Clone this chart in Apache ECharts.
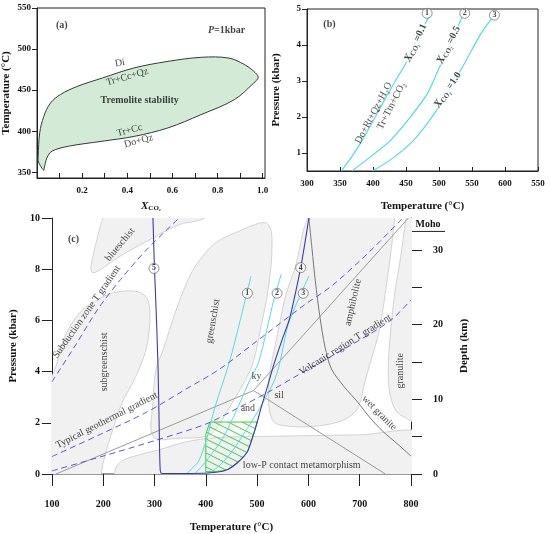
<!DOCTYPE html>
<html>
<head>
<meta charset="utf-8">
<script src="https://cdn.jsdelivr.net/npm/echarts@6/dist/echarts.min.js"></script>
<style>
html, body { margin: 0; padding: 0; background: #fff; }
#main { width: 550px; height: 534px; }
</style>
</head>
<body>
<div id="main"></div>
<script>
// ---- panel (a): tremolite field, X(CO2) vs T at 1 kbar
var aXTicks = [0.1, 0.2, 0.3, 0.4, 0.5, 0.6, 0.7, 0.8, 0.9, 1.0];
var aXLabels = [0.2, 0.4, 0.6, 0.8, 1.0];
var aYLabels = [350, 400, 450, 500, 550];
var tremoliteField = [[0.005, 369], [0.012, 398], [0.03, 418], [0.059, 434], [0.103, 444.5], [0.18, 454.7],
  [0.29, 464.8], [0.43, 477], [0.58, 485], [0.73, 490], [0.85, 489], [0.92, 481], [0.96, 473], [0.98, 465.6],
  [0.96, 458.7], [0.874, 438.4], [0.727, 420.2], [0.58, 404], [0.433, 393.8], [0.287, 387.7], [0.14, 381.7],
  [0.066, 375.6], [0.044, 367.5], [0.032, 355.3], [0.03, 352.4], [0.015, 358], [0.005, 364]];

// ---- panel (b): reaction curves
var bXTickLabels = ['300', '350', '400', '450', '500', '550', '600', '550'];
var bYLabels = [1, 2, 3, 4, 5];
var bCurve1 = [[352, 0.5], [372, 1.01], [390, 1.56], [418, 2.49], [438, 3.13], [450, 3.5], [468, 4.2], [486, 4.83]];
var bCurve2 = [[368, 0.5], [398, 0.92], [428, 1.38], [458, 2.03], [483, 2.67], [499, 3.31], [518, 4.05], [536, 4.83]];
var bCurve3 = [[399, 0.5], [428, 0.83], [463, 1.38], [494, 2.12], [517, 2.8], [539, 3.5], [564, 4.33], [582, 4.79]];

// ---- panel (c): facies grid
var cDepthTicks = [0, 5, 10, 15, 20, 25, 30];
var cDepthLabels = [0, 10, 20, 30];
var mohoDepth = 32.5;
var blueschistField = [[206, 10.6], [199, 10], [190, 9.35], [180, 8.5], [176, 8.06], [180, 7.86], [200, 8.05],
  [228, 8.45], [285, 9.09], [348, 9.74], [398, 10], [420, 10.6]];
var subgreenField = [[80, -0.5], [195, -0.5], [197, 0.1], [203, 0.7], [215, 1.5], [237, 2.8], [256, 3.5], [272, 4.2],
  [285, 5.0], [291, 6.0], [288, 6.75], [276, 7.05], [255, 7.15], [225, 7.1], [196, 6.89], [155, 6.31], [123, 5.27],
  [104, 3.98], [80, 3.2]];
var greenschistField = [[298, 1.45], [297, 2.8], [303, 4.1], [316, 4.8], [342, 6.4], [373, 7.9], [400, 8.65], [424, 9.1],
  [455, 9.4], [490, 9.7], [515, 9.82], [526, 9.6], [529, 9.0], [527, 8.1], [519, 6.9], [506, 5.6], [493, 4.4],
  [478, 3.7], [458, 3.0], [440, 2.4], [425, 1.9], [405, 1.5], [350, 1.4]];
var amphiboliteField = [[600, 10.6], [598, 10], [590, 9.5], [576, 8.2], [556, 7.0], [545, 6.0], [535, 5.0], [525, 4.0],
  [522, 3.3], [524, 2.5], [532, 2.05], [548, 1.9], [600, 1.85], [658, 2.03], [690, 2.4], [702, 2.9], [710, 3.6],
  [720, 4.3], [738, 5.6], [753, 7.5], [764, 9.2], [768, 10], [772, 10.6]];
var granuliteField = [[793, 10.6], [790, 10], [780, 8.5], [768, 7], [760, 5.5], [756, 4.3], [757, 3.4], [765, 2.7],
  [780, 2.3], [830, 2.0], [830, 10.6]];
var lowPField = [[222, 0.05], [226, 0.3], [240, 0.55], [270, 0.75], [310, 0.95], [360, 1.25], [420, 1.42], [550, 1.48],
  [700, 1.53], [830, 1.58], [830, -0.5], [215, -0.5]];
var hatchField = [[400, 0.09], [400, 1.55], [408, 2.03], [500, 2.03], [497, 1.8], [489, 1.3], [481, 0.87], [472, 0.62],
  [462, 0.45], [452, 0.3], [443, 0.18], [430, 0.12], [420, 0.1]];
var blueCurve = [[297, 10], [300, 8], [303, 6.5], [307, 4.1], [309, 2], [311, 0.2], [314, 0.02], [373, 0.02], [420, 0.07],
  [443, 0.18], [462, 0.45], [481, 0.87], [489, 1.3], [497, 1.8], [508, 2.6], [520, 3.4], [533, 4.3], [548, 5.2],
  [563, 6.05], [574, 7.0], [585, 8.06], [593, 9.0], [601, 10]];
var cLine1 = [[363, 0], [372, 0.2], [386, 0.5], [402, 1.39], [417, 2.55], [446, 4.37], [467, 6.0], [488, 7.73]];
var cLine2 = [[378, 0], [392, 0.3], [410, 0.75], [433, 1.39], [460, 2.5], [487, 3.72], [503, 4.37], [533, 6.83], [547, 7.8]];
var cLine3 = [[405, 0], [425, 0.3], [450, 0.85], [475, 1.6], [500, 2.4], [520, 3.1], [535, 3.72], [545, 4.4], [560, 5.8],
  [580, 6.8], [601, 7.73]];
var kyAnd = [[108, 0], [493, 3.26]];
var kySil = [[493, 3.26], [795, 10]];
var andSil = [[493, 3.26], [750, 0]];
var wetGranite = [[601, 10], [607, 8.8], [613.5, 7.54], [622, 6.2], [632.5, 4.95], [645, 4.1], [670, 3.4], [696, 2.81],
  [720, 2.2], [746, 1.65], [775, 1.15], [800, 0.7]];
var subductionGT = [[100, 3.6], [145, 5.0], [190, 6.45], [234, 7.6], [285, 8.77], [348, 10]];
var typicalGT = [[100, 0.68], [200, 1.6], [285, 2.42], [360, 3.3], [427, 4.1], [500, 5.2], [594, 6.63], [645, 7.34],
  [720, 8.7], [784, 10]];
var volcanicGT = [[100, 0.12], [200, 0.7], [303, 1.32], [400, 1.95], [460, 2.55], [522, 3.2], [600, 4.1], [680, 5.0],
  [759, 5.98], [800, 6.8]];

var serif = 'Liberation Serif';
var ink = '#111';
var cyan = '#52dbe2';
var navy = '#3b3bb0';
var dashBlue = '#5a5ad0';
var regionFill = '#f1f1f1';
var regionLine = '#d3d3d3';

// hatch tile for the green field
var hatch = document.createElement('canvas');
hatch.width = 14; hatch.height = 7;
var g = hatch.getContext('2d');
g.strokeStyle = '#3ccf3c'; g.lineWidth = 1;
g.beginPath();
g.moveTo(0, 0); g.lineTo(14, 7);
g.moveTo(0, -7); g.lineTo(14, 0);
g.moveTo(0, 7); g.lineTo(14, 14);
g.stroke();

var subRich = {
  i: { fontFamily: serif, fontStyle: 'italic', fontWeight: 'bold', fontSize: 11, color: ink },
  s: { fontFamily: serif, fontWeight: 'bold', fontSize: 7, color: ink, verticalAlign: 'bottom', padding: [5, 0, 0, 0] },
  n: { fontFamily: serif, fontWeight: 'bold', fontSize: 10, color: ink }
};

function polySeries(grid, pts, fill, stroke, lw, smooth, z) {
  return {
    type: 'custom', xAxisIndex: grid, yAxisIndex: grid, z: z, silent: true, clip: true,
    data: pts,
    renderItem: function (params, api) {
      if (params.dataIndex !== 0) return null;
      return {
        type: 'polygon',
        shape: { points: pts.map(function (p) { return api.coord(p); }), smooth: smooth },
        style: { fill: fill, stroke: stroke, lineWidth: lw }
      };
    }
  };
}

function lineSeries(grid, pts, color, width, type, smooth, z) {
  return {
    type: 'line', xAxisIndex: grid, yAxisIndex: grid, data: pts, symbol: 'none', smooth: smooth,
    lineStyle: { color: color, width: width, type: type }, z: z, silent: true
  };
}

function noteSeries(grid, notes) {
  return {
    type: 'scatter', xAxisIndex: grid, yAxisIndex: grid, symbolSize: 0, silent: true, z: 20,
    data: notes.map(function (n) {
      var lab = { show: true, position: 'inside', formatter: n[2], rotate: n[3] || 0 };
      var extra = n[4] || {};
      for (var k in extra) lab[k] = extra[k];
      return { value: [n[0], n[1]], label: lab };
    }),
    label: { show: true, color: ink, fontFamily: serif, fontSize: 10, rich: subRich }
  };
}

function circleSeries(grid, marks) {
  return {
    type: 'scatter', xAxisIndex: grid, yAxisIndex: grid, symbol: 'circle', symbolSize: 10, silent: true, z: 21,
    data: marks.map(function (m) { return [m[0], m[1]]; }),
    itemStyle: { color: '#fff', borderColor: '#555', borderWidth: 0.8 },
    label: {
      show: true, position: 'inside', fontFamily: serif, fontSize: 8, fontWeight: 'bold', color: ink,
      formatter: function (p) { return marks[p.dataIndex][2]; }
    }
  };
}

var nameFont = { fontFamily: serif, fontWeight: 'bold', fontSize: 11, color: ink, rich: subRich };
var blackLine = { lineStyle: { color: '#222', width: 1 } };

// annotation text: [x, y, text, rotation, extra]
var aNotes = [
  [0.11, 529, '(a)', 0, { fontWeight: 'bold' }],
  [0.84, 523, '{it|P}=1kbar', 0, { fontWeight: 'bold', rich: { it: { fontFamily: serif, fontStyle: 'italic', fontWeight: 'bold', fontSize: 10, color: ink } } }],
  [0.455, 438, 'Tremolite stability', 0, { fontWeight: 'bold' }],
  [0.367, 483, 'Di', 10],
  [0.40, 466, 'Tr+Cc+Qz', 16],
  [0.41, 401, 'Tr+Cc', 15],
  [0.45, 388, 'Do+Qz', 15]
];
var bWhite = { backgroundColor: '#fff', padding: [0, 1] };
var bNotes = [
  [334, 4.56, '(b)', 0, { fontWeight: 'bold' }],
  [464.7, 4.06, '{i|X}{s|CO₂}{n| =0.1}', 65, bWhite],
  [514.7, 4.0, '{i|X}{s|CO₂}{n| =0.5}', 63, bWhite],
  [513.2, 2.75, '{i|X}{s|CO₂}{n| =1.0}', 56, bWhite],
  [401, 2.11, 'Do+Rt+Qz+H₂O', 62],
  [428, 2.31, 'Tr+Ttn+CO₂', 63]
];
var bCircles = [[482, 4.88, '1'], [539, 4.88, '2'], [584, 4.83, '3']];
var cNotes = [
  [142, 9.15, '(c)', 0, { fontWeight: 'bold' }],
  [233, 8.96, 'blueschist', 50],
  [168, 6.33, 'Subduction zone T gradient', 55],
  [203, 4.38, 'subgreenschist', 90],
  [414, 5.97, 'greenschist', 80],
  [687, 6.7, 'amphibolite', 77],
  [780, 4.03, 'granulite', 90],
  [207, 2.1, 'Typical geothermal gradient', 27],
  [672, 5.05, 'Volcanic region T gradient', 32],
  [738, 2.38, 'wet granite', -45],
  [499, 3.83, 'ky', 0],
  [482, 2.55, 'and', 0],
  [543, 3.06, 'sil', 0],
  [587, 0.34, 'low-P contact metamorphism', 0]
];
var cCircles = [[481, 7.06, '1'], [539, 7.06, '2'], [590, 7.06, '3'], [585, 8.06, '4'], [299, 8.03, '5']];

var option = {
  animation: false,
  backgroundColor: '#fff',
  grid: [
    { left: 35, top: 8, width: 230, height: 170, show: true, borderColor: '#222', borderWidth: 1 },
    { left: 307, top: 9, width: 231, height: 162, show: true, borderColor: '#222', borderWidth: 1 },
    { left: 43, top: 218, width: 368, height: 258 }
  ],
  xAxis: [
    {
      gridIndex: 0, type: 'value', min: 0, max: 1.01,
      name: '{i|X}{s|CO₂}', nameLocation: 'middle', nameGap: 22, nameTextStyle: nameFont,
      axisLine: blackLine, splitLine: { show: false },
      axisTick: { inside: true, length: 5, customValues: aXTicks, lineStyle: { color: '#222' } },
      axisLabel: { customValues: aXLabels, margin: 8, fontSize: 9, fontFamily: serif, fontWeight: 'bold', color: ink,
        formatter: function (v) { return v.toFixed(1); } }
    },
    {
      gridIndex: 1, type: 'value', min: 300, max: 650, interval: 50,
      name: 'Temperature (°C)', nameLocation: 'middle', nameGap: 30, nameTextStyle: nameFont,
      axisLine: blackLine, splitLine: { show: false },
      axisTick: { inside: true, length: 4, lineStyle: { color: '#222' } },
      axisLabel: { margin: 8, fontSize: 9, fontFamily: serif, fontWeight: 'bold', color: ink,
        formatter: function (v) { return bXTickLabels[Math.round((v - 300) / 50)]; } }
    },
    {
      gridIndex: 2, type: 'value', min: 100, max: 800, interval: 100,
      name: 'Temperature (°C)', nameLocation: 'middle', nameGap: 48, nameTextStyle: nameFont,
      axisLine: blackLine, splitLine: { show: false },
      axisTick: { inside: false, length: 12, lineStyle: { color: '#222' } },
      axisLabel: { margin: 25, fontSize: 10, fontFamily: serif, fontWeight: 'bold', color: ink }
    },
    {
      gridIndex: 2, type: 'value', min: 100, max: 800, position: 'top',
      axisLine: { lineStyle: { color: '#999', width: 2 } },
      axisTick: { show: false }, axisLabel: { show: false }, splitLine: { show: false }
    }
  ],
  yAxis: [
    {
      gridIndex: 0, type: 'value', min: 343, max: 550,
      name: 'Temperature (°C)', nameLocation: 'middle', nameGap: 25, nameRotate: 90, nameTextStyle: nameFont,
      axisLine: blackLine, splitLine: { show: false },
      axisTick: { inside: false, length: 5, customValues: aYLabels, lineStyle: { color: '#222' } },
      axisLabel: { customValues: aYLabels, margin: 6, fontSize: 9, fontFamily: serif, fontWeight: 'bold', color: ink }
    },
    {
      gridIndex: 1, type: 'value', min: 0.5, max: 5,
      name: 'Pressure (kbar)', nameLocation: 'middle', nameGap: 25, nameRotate: 90, nameTextStyle: nameFont,
      axisLine: blackLine, splitLine: { show: false },
      axisTick: { inside: false, length: 5, customValues: bYLabels, lineStyle: { color: '#222' } },
      axisLabel: { customValues: bYLabels, margin: 6, fontSize: 9, fontFamily: serif, fontWeight: 'bold', color: ink }
    },
    {
      gridIndex: 2, type: 'value', min: 0, max: 10, interval: 2,
      name: 'Pressure (kbar)', nameLocation: 'middle', nameGap: 29, nameRotate: 90, nameTextStyle: nameFont,
      axisLine: blackLine, splitLine: { show: false },
      axisTick: { inside: false, length: 10, lineStyle: { color: '#222' } },
      axisLabel: { margin: 12, fontSize: 10, fontFamily: serif, fontWeight: 'bold', color: ink }
    },
    {
      gridIndex: 2, type: 'value', min: 0, max: 34.3, position: 'right',
      name: 'Depth (km)', nameLocation: 'middle', nameGap: 48, nameRotate: 90, nameTextStyle: nameFont,
      axisLine: blackLine, splitLine: { show: false },
      axisTick: { inside: false, length: 11, customValues: cDepthTicks, lineStyle: { color: '#222' } },
      axisLabel: { customValues: cDepthLabels, margin: 22, fontSize: 10, fontFamily: serif, fontWeight: 'bold', color: ink }
    }
  ],
  series: [
    // (a)
    polySeries(0, tremoliteField, '#d2ead6', '#2f3d31', 1, 0.35, 2),
    noteSeries(0, aNotes),
    // (b)
    lineSeries(1, bCurve1, cyan, 1.2, 'solid', 0.3, 3),
    lineSeries(1, bCurve2, cyan, 1.2, 'solid', 0.3, 3),
    lineSeries(1, bCurve3, cyan, 1.2, 'solid', 0.3, 3),
    noteSeries(1, bNotes),
    circleSeries(1, bCircles),
    // (c) fields
    polySeries(2, lowPField, regionFill, regionLine, 1, 0.3, 1),
    polySeries(2, subgreenField, regionFill, regionLine, 1, 0.35, 1),
    polySeries(2, greenschistField, regionFill, regionLine, 1, 0.35, 1),
    polySeries(2, blueschistField, regionFill, regionLine, 1, 0.35, 1),
    polySeries(2, amphiboliteField, regionFill, regionLine, 1, 0.35, 1),
    polySeries(2, granuliteField, regionFill, regionLine, 1, 0.35, 1),
    polySeries(2, hatchField, { image: hatch, repeat: 'repeat' }, '#3ccf3c', 1, 0, 2),
    // (c) lines
    lineSeries(2, kyAnd, '#9a9a9a', 1, 'solid', false, 3),
    lineSeries(2, kySil, '#9a9a9a', 1, 'solid', false, 3),
    lineSeries(2, andSil, '#9a9a9a', 1, 'solid', false, 3),
    lineSeries(2, wetGranite, '#777', 1, 'solid', 0.3, 3),
    lineSeries(2, cLine1, cyan, 1, 'solid', 0.3, 4),
    lineSeries(2, cLine2, cyan, 1, 'solid', 0.3, 4),
    lineSeries(2, cLine3, cyan, 1, 'solid', 0.3, 4),
    lineSeries(2, subductionGT, dashBlue, 1, [6, 4], 0.3, 5),
    lineSeries(2, typicalGT, dashBlue, 1, [6, 4], 0.3, 5),
    lineSeries(2, volcanicGT, dashBlue, 1, [6, 4], 0.3, 5),
    lineSeries(2, blueCurve, navy, 1.1, 'solid', 0.25, 6),
    noteSeries(2, cNotes),
    circleSeries(2, cCircles)
  ]
};

var chart = echarts.init(document.getElementById('main'));
chart.setOption(option);

// Moho marker on the depth axis
var mohoY = chart.convertToPixel({ yAxisIndex: 3 }, mohoDepth);
var rightX = chart.convertToPixel({ xAxisIndex: 2 }, 800);
chart.setOption({
  graphic: [
    { type: 'line', shape: { x1: rightX, y1: mohoY, x2: rightX + 34, y2: mohoY }, style: { stroke: '#222', lineWidth: 1 } },
    { type: 'text', x: rightX + 17, y: mohoY - 2, style: { text: 'Moho', fontFamily: serif, fontWeight: 'bold', fontSize: 10, fill: ink, align: 'center', verticalAlign: 'bottom' } }
  ]
});

window.addEventListener('resize', function () { chart.resize(); });
</script>
</body>
</html>
